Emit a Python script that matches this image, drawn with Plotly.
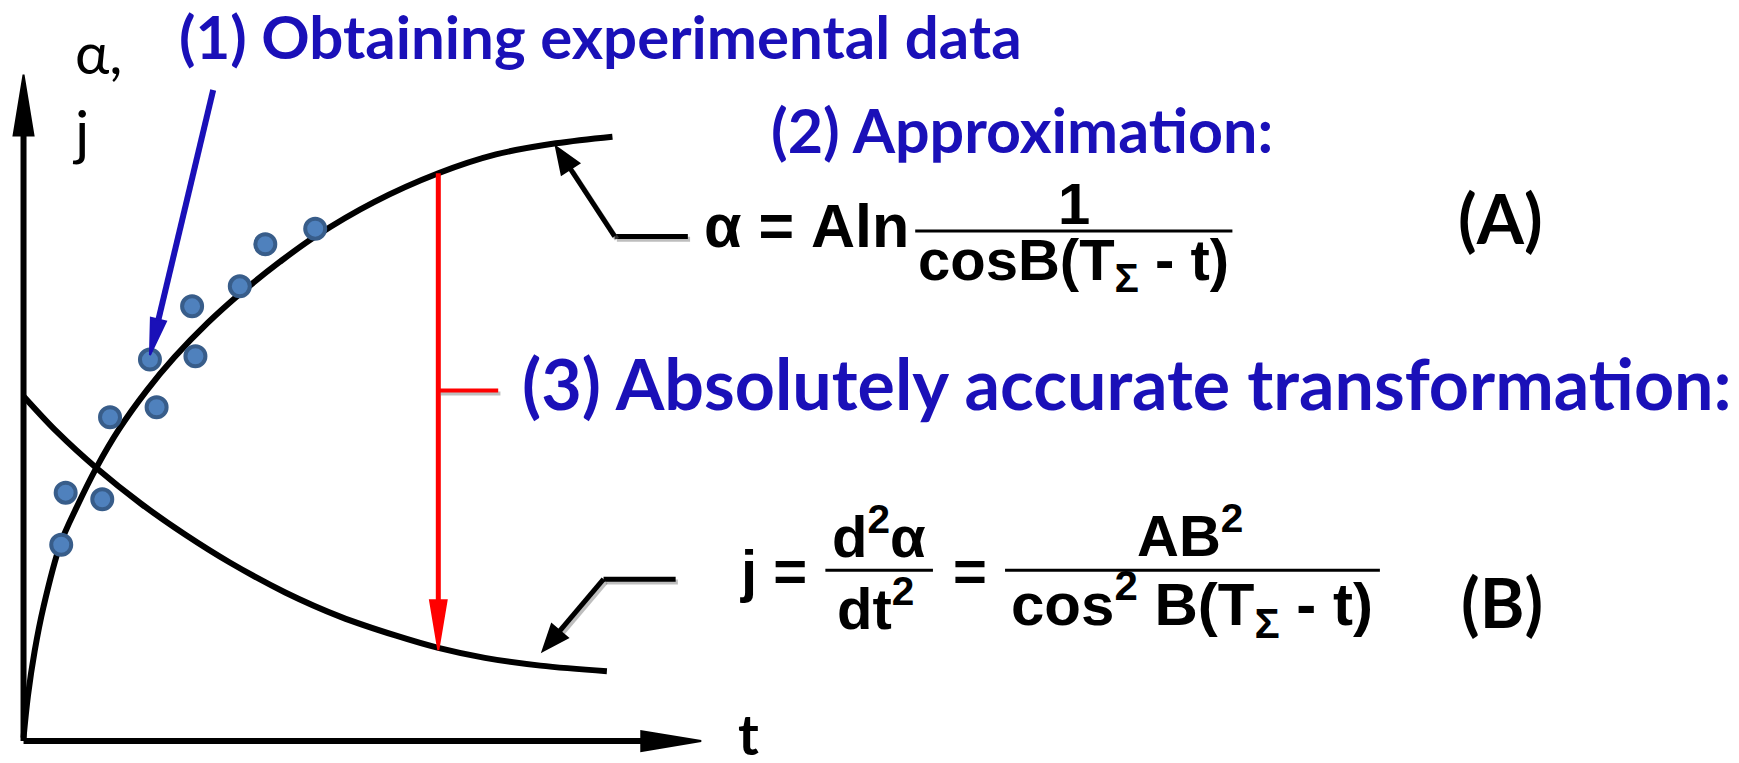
import plotly.graph_objects as go

# schematic units: t along the time axis, v along the alpha / j axis
pts_t = [3.4, 3.8, 7.1, 7.8, 12.0, 11.4, 15.5, 15.2, 19.5, 21.8, 26.3]
pts_v = [17.7, 22.4, 21.8, 29.2, 30.1, 34.4, 34.7, 39.2, 41.0, 44.8, 46.2]

alpha_t = [0.0, 0.4, 1.0, 1.8, 3.3, 4.8, 6.6, 8.6, 11.1, 13.6, 16.6, 19.6,
           23.1, 26.3, 31.6, 37.4, 42.6, 48.0, 53.1]
alpha_v = [0.3, 4.1, 8.1, 12.1, 17.7, 21.1, 24.7, 28.1, 31.6, 34.6, 37.7, 40.4,
           43.2, 45.5, 48.6, 51.2, 52.9, 53.9, 54.5]

j_t = [0.0, 3.0, 6.6, 10.6, 14.6, 18.6, 23.6, 28.6, 33.6, 37.4, 41.6, 46.6, 52.6]
j_v = [31.1, 27.9, 24.6, 21.4, 18.6, 16.1, 13.4, 11.2, 9.5, 8.4, 7.5, 6.8, 6.3]

BLUE = "#1A10B8"
RED = "#FF0000"
SHADOW = "rgba(110,110,110,0.45)"
SANS = "Lato"
FORM = "Liberation Sans"


def head(tip, tail, length, half):
    dx, dy = tip[0] - tail[0], tip[1] - tail[1]
    n = (dx * dx + dy * dy) ** 0.5
    ux, uy = dx / n, dy / n
    bx, by = tip[0] - ux * length, tip[1] - uy * length
    p1 = (bx - uy * half, by + ux * half)
    p2 = (bx + uy * half, by - ux * half)
    path = f"M {tip[0]},{tip[1]} L {p1[0]},{p1[1]} L {p2[0]},{p2[1]} Z"
    return path, (bx, by)


shapes = []


def seg(p, q, color, width, shadow=False):
    if shadow:
        shapes.append(dict(type="line", x0=p[0] + 0.2, y0=p[1] - 0.25,
                           x1=q[0] + 0.2, y1=q[1] - 0.25,
                           line=dict(color=SHADOW, width=width)))
    shapes.append(dict(type="line", x0=p[0], y0=p[1], x1=q[0], y1=q[1],
                       line=dict(color=color, width=width)))


def arrow(tail, tip, color, width, length, half, shadow=False):
    path, base = head(tip, tail, length, half)
    seg(tail, base, color, width, shadow)
    shapes.append(dict(type="path", path=path, fillcolor=color,
                       line=dict(color=color, width=2)))


fig = go.Figure()

fig.add_trace(go.Scatter(x=alpha_t, y=alpha_v, mode="lines",
                         line=dict(color="black", width=6, shape="spline"),
                         hoverinfo="skip"))
fig.add_trace(go.Scatter(x=j_t, y=j_v, mode="lines",
                         line=dict(color="black", width=6, shape="spline"),
                         hoverinfo="skip"))
fig.add_trace(go.Scatter(x=pts_t, y=pts_v, mode="markers",
                         marker=dict(size=20, color="#4F81BD",
                                     line=dict(color="#385D8A", width=4)),
                         hoverinfo="skip"))

# axes
arrow((0, 0), (61.1, 0), "black", 6, 5.4, 0.9)
arrow((0, 0), (0, 60.1), "black", 6, 5.5, 0.9)

# red transformation arrow
arrow((37.4, 51.2), (37.4, 8.2), RED, 5, 4.5, 0.75)
seg((37.4, 31.6), (42.8, 31.6), RED, 4, shadow=True)

# connectors to the formulas
seg((59.9, 45.5), (53.3, 45.5), "black", 5, shadow=True)
arrow((53.3, 45.5), (48.0, 53.6), "black", 5, 2.4, 0.95, shadow=True)
seg((58.8, 14.6), (52.3, 14.6), "black", 5, shadow=True)
arrow((52.3, 14.6), (46.8, 8.1), "black", 5, 2.4, 0.95, shadow=True)

# blue pointer to the data
arrow((17.1, 58.7), (11.4, 34.8), BLUE, 6, 3.3, 0.7)

# fraction bars
seg((80.4, 46.0), (109.0, 46.0), "black", 3)
seg((72.3, 15.4), (82.0, 15.4), "black", 3)
seg((88.5, 15.4), (122.3, 15.4), "black", 3)

ann = []


def txt(x, y, s, size, color="black", family=SANS, weight=700, xanchor="center"):
    ann.append(dict(x=x, y=y, text=s, showarrow=False, xanchor=xanchor,
                    yanchor="middle",
                    font=dict(family=family, size=size, color=color, weight=weight)))


SIG = '<span style="color:black">Σ</span>'

txt(13.8, 63.6, "(1) Obtaining experimental data", 60, BLUE, xanchor="left")
txt(67.2, 55.1, "(2) Approximation:", 61, BLUE, xanchor="left")
txt(44.8, 32.3, "(3) Absolutely accurate transformation:", 70, BLUE, xanchor="left")

txt(6.8, 62.2, "α,", 58, weight=400)
txt(5.1, 55.0, "j", 60, weight=400)
txt(65.4, 0.7, "t", 56)

txt(70.6, 46.4, "α = Aln", 61, family=FORM)
txt(94.7, 48.5, "1", 58, family=FORM)
txt(94.7, 43.0, f"cosB(T<sub>{SIG}</sub> - t)", 58, family=FORM)
txt(133.2, 47.2, "(A)", 68)

txt(67.6, 15.4, "j =", 58, family=FORM)
txt(77.1, 18.8, "d<sup>2</sup>α", 58, family=FORM)
txt(76.8, 12.3, "dt<sup>2</sup>", 58, family=FORM)
txt(85.3, 15.4, "=", 58, family=FORM)
txt(105.2, 18.9, "AB<sup>2</sup>", 58, family=FORM)
txt(105.4, 12.3, f"cos<sup>2</sup> B(T<sub>{SIG}</sub> - t)", 60, family=FORM)
txt(133.3, 12.6, "(B)", 68)

fig.update_layout(
    width=1739, height=763,
    margin=dict(l=0, r=0, t=0, b=0),
    paper_bgcolor="white", plot_bgcolor="white",
    showlegend=False,
    shapes=shapes,
    annotations=ann,
    xaxis=dict(range=[-1.4, 155.4], visible=False, fixedrange=True),
    yaxis=dict(range=[-2.7, 66.1], visible=False, fixedrange=True),
)

fig.write_html("out.html")
